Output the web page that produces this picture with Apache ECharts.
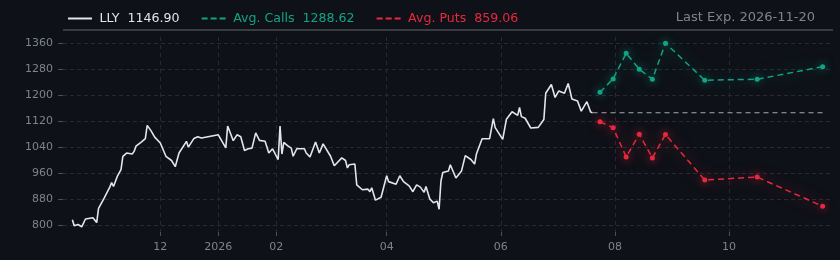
<!DOCTYPE html>
<html>
<head>
<meta charset="utf-8">
<script src="https://cdn.jsdelivr.net/npm/echarts@6/dist/echarts.min.js"></script>
<style>
  html, body { margin: 0; padding: 0; background: #0e1118; }
  #chart { width: 840px; height: 260px; }
</style>
</head>
<body>
<div id="chart"></div>
<script>
// LLY close prices
var priceDates = [
  '2025-10-15', '2025-10-16', '2025-10-18', '2025-10-19', '2025-10-20', '2025-10-22', '2025-10-23', '2025-10-26',
  '2025-10-28', '2025-10-29', '2025-11-01', '2025-11-04', '2025-11-05', '2025-11-06', '2025-11-08', '2025-11-10',
  '2025-11-11', '2025-11-13', '2025-11-16', '2025-11-17', '2025-11-18', '2025-11-19', '2025-11-21', '2025-11-23',
  '2025-11-24', '2025-11-26', '2025-11-28', '2025-12-01', '2025-12-04', '2025-12-07', '2025-12-09', '2025-12-11',
  '2025-12-15', '2025-12-16', '2025-12-19', '2025-12-21', '2025-12-23', '2025-12-24', '2025-12-30', '2025-12-31',
  '2026-01-01', '2026-01-05', '2026-01-06', '2026-01-09', '2026-01-11', '2026-01-13', '2026-01-15', '2026-01-17',
  '2026-01-19', '2026-01-21', '2026-01-23', '2026-01-26', '2026-01-28', '2026-01-30', '2026-01-31', '2026-02-02',
  '2026-02-03', '2026-02-04', '2026-02-05', '2026-02-07', '2026-02-09', '2026-02-10', '2026-02-12', '2026-02-14',
  '2026-02-16', '2026-02-17', '2026-02-19', '2026-02-22', '2026-02-24', '2026-02-26', '2026-03-02', '2026-03-04',
  '2026-03-08', '2026-03-10', '2026-03-11', '2026-03-12', '2026-03-15', '2026-03-16', '2026-03-19', '2026-03-22',
  '2026-03-23', '2026-03-24', '2026-03-26', '2026-03-29', '2026-04-01', '2026-04-02', '2026-04-06', '2026-04-08',
  '2026-04-10', '2026-04-13', '2026-04-15', '2026-04-17', '2026-04-19', '2026-04-21', '2026-04-22', '2026-04-24',
  '2026-04-26', '2026-04-28', '2026-04-29', '2026-04-30', '2026-05-01', '2026-05-04', '2026-05-05', '2026-05-06',
  '2026-05-08', '2026-05-11', '2026-05-13', '2026-05-16', '2026-05-18', '2026-05-19', '2026-05-20', '2026-05-22',
  '2026-05-26', '2026-05-28', '2026-05-29', '2026-06-02', '2026-06-04', '2026-06-07', '2026-06-10', '2026-06-11',
  '2026-06-12', '2026-06-14', '2026-06-17', '2026-06-21', '2026-06-24', '2026-06-25', '2026-06-28', '2026-06-30',
  '2026-07-02', '2026-07-05', '2026-07-07', '2026-07-08', '2026-07-09', '2026-07-12', '2026-07-14', '2026-07-17',
  '2026-07-19', '2026-07-20'
];
var priceValues = [
  818, 799, 803, 805, 796, 820, 824, 824,
  809, 853, 884, 918, 932, 920, 951, 972,
  1013, 1023, 1020, 1028, 1044, 1038, 1057, 1067,
  1108, 1092, 1072, 1054, 1013, 1000, 981, 1023,
  1059, 1041, 1068, 1073, 1069, 1075, 1077, 1072,
  1079, 1039, 1106, 1061, 1079, 1073, 1031, 1036,
  1038, 1085, 1062, 1059, 1023, 1036, 1041, 1003,
  1106, 1020, 1056, 1046, 1038, 1013, 1037, 1036,
  1036, 1023, 1011, 1057, 1023, 1051, 1013, 984,
  1008, 1000, 977, 987, 989, 925, 910, 912,
  904, 916, 878, 887, 953, 935, 927, 953,
  935, 922, 904, 925, 918, 902, 920, 882,
  870, 875, 850, 937, 963, 968, 987, 982,
  946, 968, 1015, 1003, 989, 1021, 1023, 1067,
  1067, 1129, 1101, 1065, 1127, 1150, 1139, 1163,
  1135, 1130, 1100, 1102, 1126, 1207, 1234, 1194,
  1214, 1207, 1237, 1214, 1189, 1183, 1152, 1181,
  1149, 1146.90
];

// option expirations and average strikes
var expDates = ['2026-07-24', '2026-07-31', '2026-08-07', '2026-08-14', '2026-08-21', '2026-08-28', '2026-09-18', '2026-10-16', '2026-11-20'];
var callValues = [1210, 1251, 1330, 1281, 1250, 1361, 1247, 1250, 1288.62];
var putValues = [1119, 1101, 1011, 1081, 1008, 1080, 940, 949, 859.06];

var lastPrice = 1146.90;
var yTicks = [800, 880, 960, 1040, 1120, 1200, 1280, 1360];
var xTicks = ['2025-12-01', '2026-01-01', '2026-02-01', '2026-04-01', '2026-06-01', '2026-08-01', '2026-10-01'];

var colWhite = '#e4e5e8';
var colCalls = '#13a384';
var colPuts = '#e8283e';
var colGrey = '#7f838b';

function toTime(s) {
  var p = s.split('-');
  return new Date(+p[0], +p[1] - 1, +p[2]).getTime();
}
function pairs(dates, vals) {
  return dates.map(function (d, i) { return [toTime(d), vals[i]]; });
}
var xTickTimes = xTicks.map(toTime);
var lastDate = priceDates[priceDates.length - 1];
var lastExp = expDates[expDates.length - 1];

var legendValues = {
  'LLY': lastPrice.toFixed(2),
  'Avg. Calls': callValues[callValues.length - 1].toFixed(2),
  'Avg. Puts': putValues[putValues.length - 1].toFixed(2)
};

var solidIcon = 'path://M0,0H24V2H0Z';
var dashIcon = 'path://M0,0H6V2H0Z M9,0H15V2H9Z M18,0H24V2H18Z';

var chart = echarts.init(document.getElementById('chart'));
chart.setOption({
  backgroundColor: '#0e1118',
  animation: false,
  textStyle: { fontFamily: 'DejaVu Sans' },
  title: {
    text: 'Last Exp. ' + lastExp,
    right: 20,
    top: 6,
    textStyle: { color: colGrey, fontSize: 13, fontWeight: 'normal' }
  },
  legend: {
    left: 63,
    top: 7,
    itemWidth: 25,
    itemHeight: 2,
    itemGap: 22,
    selectedMode: false,
    formatter: function (name) { return name + '  ' + legendValues[name]; },
    textStyle: { fontSize: 12.6, padding: [0, 0, 0, 2] },
    data: [
      { name: 'LLY', icon: solidIcon, textStyle: { color: colWhite } },
      { name: 'Avg. Calls', icon: dashIcon, textStyle: { color: colCalls } },
      { name: 'Avg. Puts', icon: dashIcon, textStyle: { color: colPuts } }
    ]
  },
  graphic: [{
    type: 'rect',
    left: 63,
    top: 29,
    shape: { width: 770, height: 2 },
    style: { fill: '#383b42' },
    silent: true
  }],
  grid: { left: 63, right: 8, top: 37, bottom: 28 },
  xAxis: {
    type: 'value',
    min: toTime('2025-10-10'),
    max: toTime('2026-11-25'),
    axisLine: { show: false },
    axisTick: { show: true, length: 4, customValues: xTickTimes, lineStyle: { color: '#4b4e56' } },
    axisLabel: {
      customValues: xTickTimes,
      color: colGrey,
      fontSize: 11,
      margin: 10,
      formatter: function (v) {
        var d = new Date(v);
        if (d.getMonth() === 0) return String(d.getFullYear());
        var m = d.getMonth() + 1;
        return (m < 10 ? '0' : '') + m;
      }
    },
    splitLine: { show: true, customValues: xTickTimes, lineStyle: { color: '#272a32', type: [4, 4] } }
  },
  yAxis: {
    type: 'value',
    min: 780,
    max: 1380,
    axisLine: { show: false },
    axisTick: { show: true, length: 5, customValues: yTicks, lineStyle: { color: '#4b4e56' } },
    axisLabel: {
      customValues: yTicks,
      color: colGrey,
      fontSize: 11,
      margin: 10,
      formatter: function (v) { return String(v); }
    },
    splitLine: { show: true, customValues: yTicks, lineStyle: { color: '#272a32', type: [4, 3] } }
  },
  series: [
    {
      name: 'Last',
      type: 'line',
      showSymbol: false,
      data: [[toTime(lastDate), lastPrice], [toTime(lastExp), lastPrice]],
      lineStyle: { color: '#a6a9af', width: 1.2, type: [5, 4] },
      itemStyle: { color: '#a6a9af' },
      z: 1
    },
    {
      name: 'LLY',
      type: 'line',
      showSymbol: false,
      data: pairs(priceDates, priceValues),
      lineStyle: { color: colWhite, width: 1.6 },
      itemStyle: { color: colWhite },
      z: 3
    },
    {
      name: 'Avg. Calls',
      type: 'line',
      symbol: 'circle',
      symbolSize: 5,
      data: pairs(expDates, callValues),
      lineStyle: { color: colCalls, width: 1.5, type: [6, 4], shadowBlur: 14, shadowColor: 'rgba(19,163,132,0.75)' },
      itemStyle: { color: colCalls, shadowBlur: 8, shadowColor: 'rgba(19,163,132,0.8)' },
      z: 2
    },
    {
      name: 'Avg. Puts',
      type: 'line',
      symbol: 'circle',
      symbolSize: 5,
      data: pairs(expDates, putValues),
      lineStyle: { color: colPuts, width: 1.5, type: [6, 4], shadowBlur: 14, shadowColor: 'rgba(232,40,62,0.75)' },
      itemStyle: { color: colPuts, shadowBlur: 8, shadowColor: 'rgba(232,40,62,0.8)' },
      z: 2
    }
  ]
});
</script>
</body>
</html>
